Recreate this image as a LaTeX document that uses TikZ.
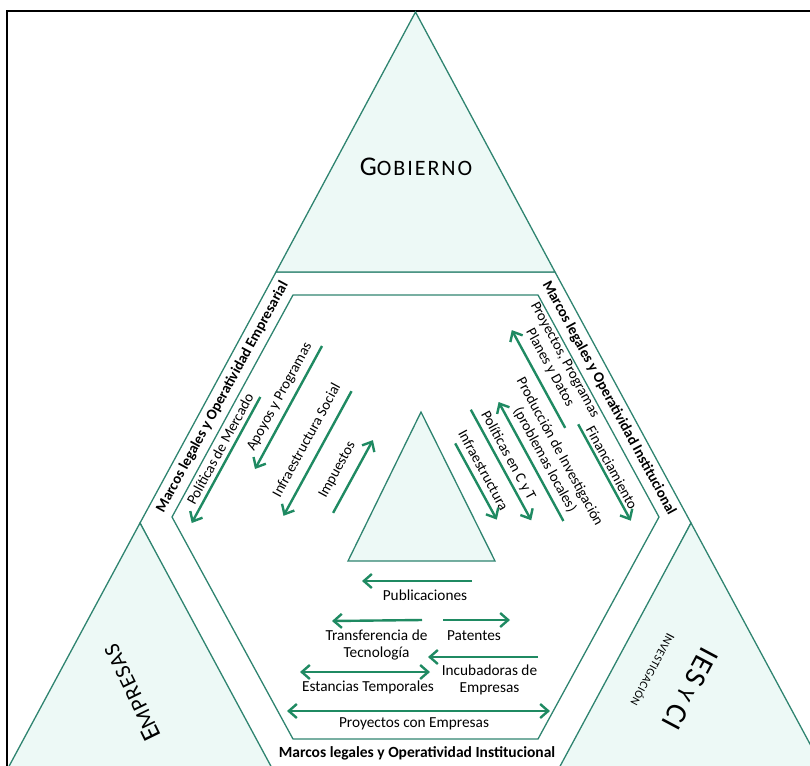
\documentclass[tikz,border=0pt]{standalone}
\usepackage{fontspec}
\setmainfont{Carlito}
\newfontfamily\titlefont[LetterSpace=4]{Carlito}
\newfontfamily\widetitlefont[LetterSpace=9]{Carlito}
\usetikzlibrary{arrows.meta}

\definecolor{edgec}{HTML}{2F8470}
\definecolor{flowc}{HTML}{1F8A62}
\definecolor{mint}{HTML}{EDF9F6}

\tikzset{
  region/.style={draw=edgec, line width=1.3pt, line join=miter},
  corner/.style={region, fill=mint},
  barb/.tip={Straight Barb[length=8pt,width=14pt]},
  flow/.style={draw=flowc, line width=2.4pt, -barb},
  flowboth/.style={draw=flowc, line width=2.4pt, barb-barb},
  lbl/.style={font=\fontsize{15.3}{17}\selectfont, inner sep=0pt, align=center},
  slbl/.style={font=\fontsize{14.7}{17}\selectfont, inner sep=0pt, align=center},
  band/.style={font=\fontsize{15.5}{17}\selectfont\bfseries, inner sep=0pt},
  sband/.style={font=\fontsize{14.8}{17}\selectfont\bfseries, inner sep=0pt},
  title/.style={inner sep=0pt, align=center, font=\titlefont},
}

\newcommand{\capbig}[1]{{\fontsize{27}{27}\selectfont #1}}
\newcommand{\capsmall}[1]{{\fontsize{22}{22}\selectfont #1}}

\begin{document}
\begin{tikzpicture}[x=1pt, y=-1pt]
  \useasboundingbox (0,0) rectangle (810,765);
  \clip (0,0) rectangle (810,765);

  % outer frame
  \draw[line width=2pt] (7,790) -- (7,11) -- (830,11);

  % outer hexagon and the three corner triangles
  \draw[region] (276,272) -- (555,272) -- (691,523) -- (555,783) -- (276,783) -- (140,523) -- cycle;
  \draw[corner] (415.5,12) -- (555,272) -- (276,272) -- cycle;
  \draw[corner] (140,523) -- (280,783) -- (0,783) -- cycle;
  \draw[corner] (691,523) -- (831,783) -- (551,783) -- cycle;

  % inner hexagon and central triangle
  \draw[region] (293,295) -- (538,295) -- (659,517) -- (538,739) -- (293,739) -- (172,517) -- cycle;
  \draw[corner] (421,412) -- (495,561) -- (348,561) -- cycle;

  % sector names
  \node[title, font=\widetitlefont] (gob) at (416,167) {\capbig{G}\capsmall{OBIERNO}};
  \node[title, rotate=116] (emp) at (131.5,693) {\capbig{E}\capsmall{MPRESAS}};
  \node[title, rotate=-118] (ies) at (690,689) {{\fontsize{30}{30}\selectfont IES}{\fontsize{24}{24}\selectfont{} Y }{\fontsize{30}{30}\selectfont CI}};
  \node[title, rotate=-118] (inv) at (653,670) {{\fontsize{13.5}{13.5}\selectfont I}{\fontsize{11.5}{11.5}\selectfont NVESTIGACIÓN}};

  % band labels
  \node[sband, rotate=61.4] (bandL) at (222.5,397) {Marcos legales y Operatividad Empresarial};
  \node[sband, rotate=-61.4] (bandR) at (609,398) {Marcos legales y Operatividad Institucional};
  \node[band] (bandB) at (417,753) {Marcos legales y Operatividad Institucional};

  % left side: government to companies
  \node[slbl, rotate=61.4] (polmer) at (220,449) {Políticas de Mercado};
  \node[slbl, rotate=61.4] (apoyos) at (280,397) {Apoyos y Programas};
  \node[slbl, rotate=61.4] (infsoc) at (306,440) {Infraestructura Social};
  \node[slbl, rotate=61.4] (impuestos) at (337.5,470) {Impuestos};

  \coordinate (polmer-a) at (260.3,397);   \coordinate (polmer-b) at (191.7,523);
  \coordinate (apoyos-a) at (322,346);     \coordinate (apoyos-b) at (255,469);
  \coordinate (infsoc-a) at (351.5,391.2); \coordinate (infsoc-b) at (283.5,515.8);
  \coordinate (impuestos-a) at (333.1,512.9); \coordinate (impuestos-b) at (372.9,440.1);
  \draw[flow] (polmer-a) -- (polmer-b);
  \draw[flow] (apoyos-a) -- (apoyos-b);
  \draw[flow] (infsoc-a) -- (infsoc-b);
  \draw[flow] (impuestos-a) -- (impuestos-b);

  % right side: government and research institutions
  \node[slbl, rotate=-61.4] (proy) at (557,364) {Proyectos, Programas\\Planes y Datos};
  \node[slbl, rotate=-61.4] (financ) at (612,467.5) {Financiamiento};
  \node[slbl, rotate=-61.4] (produc) at (552,456) {Producción de Investigación\\(problemas locales)};
  \node[slbl, rotate=-61.4] (polcyt) at (508,456) {Políticas en C y T};
  \node[slbl, rotate=-61.4] (infra) at (483.5,470) {Infraestructura};

  \coordinate (proy-a) at (565.2,427.9);   \coordinate (proy-b) at (511.8,330.1);
  \coordinate (financ-a) at (578.2,424.3); \coordinate (financ-b) at (630.8,520.7);
  \coordinate (produc-a) at (563.4,521);   \coordinate (produc-b) at (498.6,402);
  \coordinate (polcyt-a) at (470.8,409.7); \coordinate (polcyt-b) at (531.2,520.3);
  \coordinate (infra-a) at (455.2,443.4);  \coordinate (infra-b) at (496.8,519.6);
  \draw[flow] (proy-a) -- (proy-b);
  \draw[flow] (financ-a) -- (financ-b);
  \draw[flow] (produc-a) -- (produc-b);
  \draw[flow] (polcyt-a) -- (polcyt-b);
  \draw[flow] (infra-a) -- (infra-b);

  % bottom: research institutions and companies
  \node[lbl] (pub) at (425,595) {Publicaciones};
  \node[lbl] (transf) at (376.5,645) {Transferencia de\\Tecnología};
  \node[lbl] (pat) at (474,636) {Patentes};
  \node[lbl] (incub) at (489.5,680) {Incubadoras de\\Empresas};
  \node[lbl] (estan) at (368,687) {Estancias Temporales};
  \node[lbl] (proyemp) at (414,724) {Proyectos con Empresas};

  \coordinate (pub-a) at (472,581);    \coordinate (pub-b) at (362,581);
  \coordinate (transf-a) at (422,620); \coordinate (transf-b) at (332,621);
  \coordinate (pat-a) at (443,620);    \coordinate (pat-b) at (510,620);
  \coordinate (incub-a) at (538,657);  \coordinate (incub-b) at (428,657);
  \coordinate (estan-a) at (300,672);  \coordinate (estan-b) at (430,672);
  \coordinate (proyemp-a) at (287,711); \coordinate (proyemp-b) at (550,711);
  \draw[flow] (pub-a) -- (pub-b);
  \draw[flow] (transf-a) -- (transf-b);
  \draw[flow] (pat-a) -- (pat-b);
  \draw[flow] (incub-a) -- (incub-b);
  \draw[flowboth] (estan-a) -- (estan-b);
  \draw[flowboth] (proyemp-a) -- (proyemp-b);
\end{tikzpicture}
\end{document}
